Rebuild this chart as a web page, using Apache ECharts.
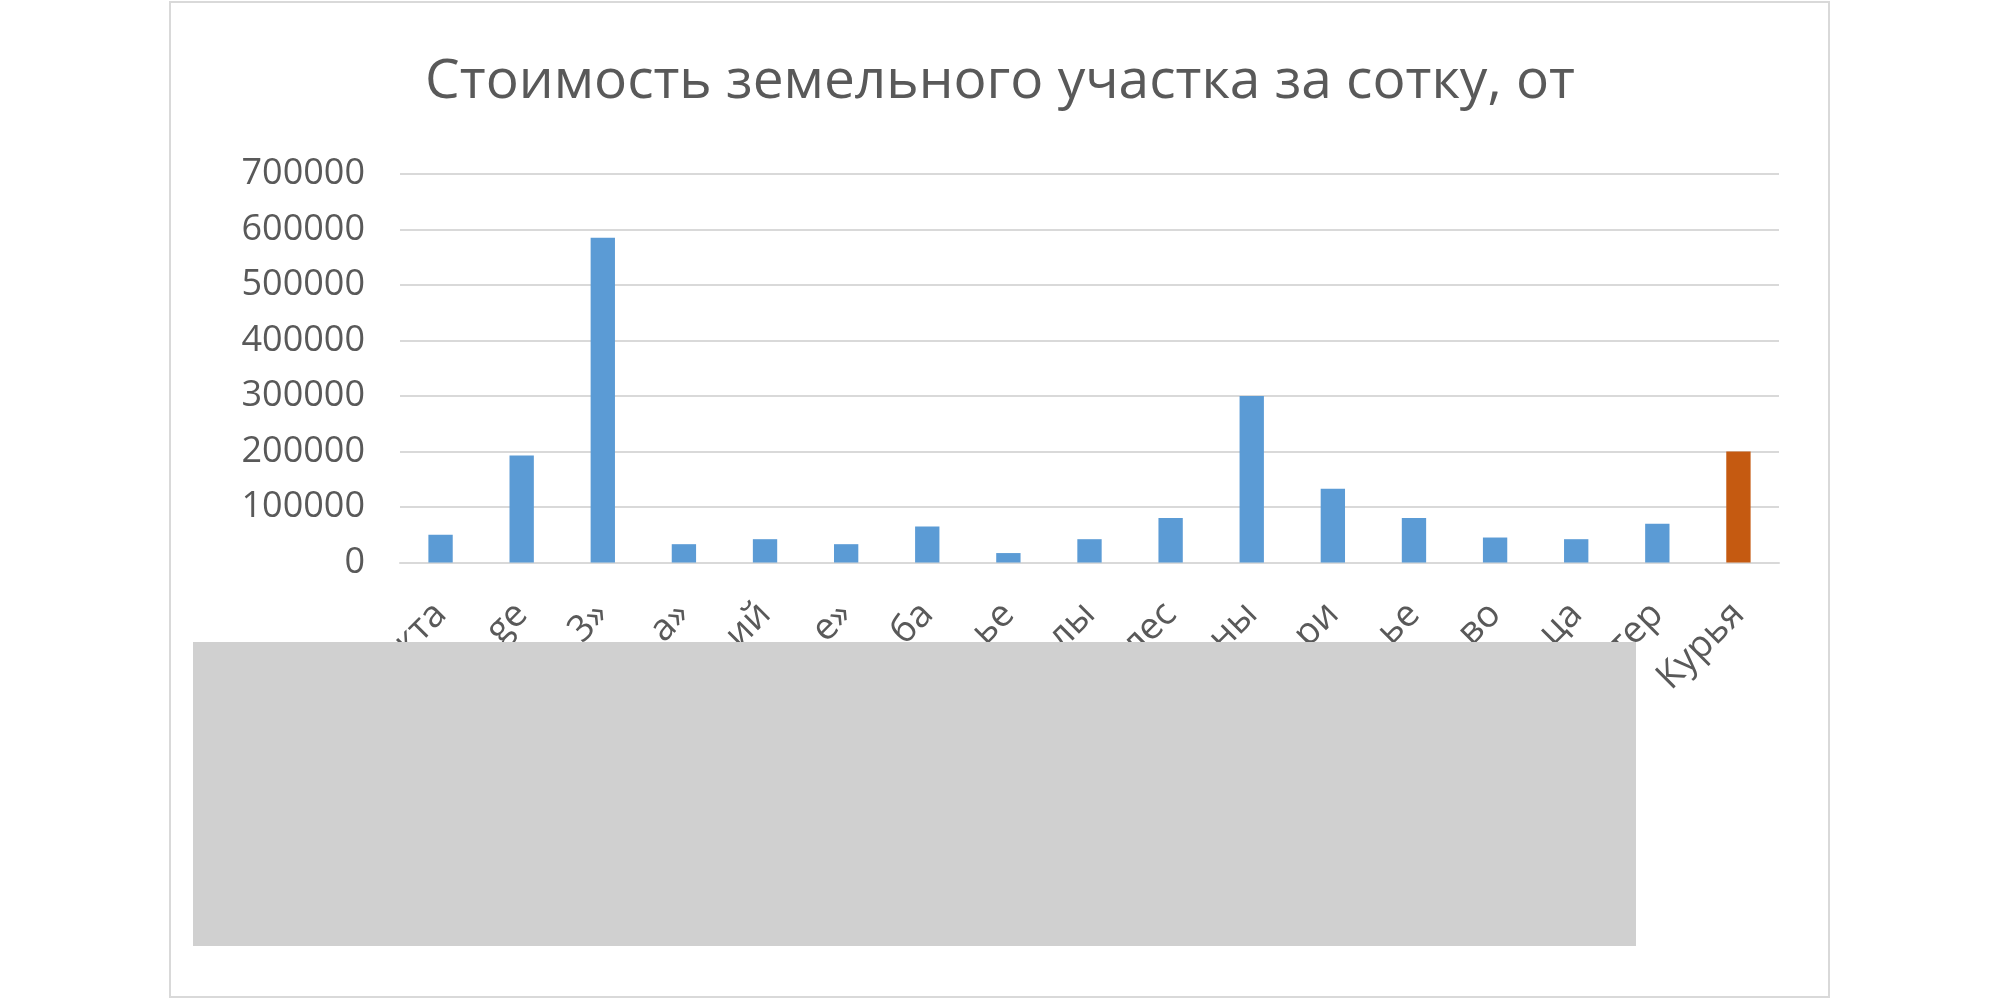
<!DOCTYPE html>
<html>
<head>
<meta charset="utf-8">
<script src="https://cdn.jsdelivr.net/npm/echarts@6/dist/echarts.min.js"></script>
<style>
  html, body { margin: 0; padding: 0; background: #ffffff; }
  #chart { width: 2000px; height: 1000px; }
</style>
</head>
<body>
<div id="chart"></div>
<script>
// Visible (partially hidden) category labels, left to right
const categories = ['кта', 'ge', '3»', 'а»', 'ий', 'е»', 'ба', 'ье', 'лы', 'лес', 'ны', 'ри', 'ье', 'во', 'ца', 'тер', 'Курья'];
// Price per sotka
const values = [50000, 193000, 585000, 33000, 42000, 33000, 65000, 17000, 42000, 80000, 300000, 133000, 80000, 45000, 42000, 70000, 200000];
const highlightCategory = 'Курья';
const titleText = 'Стоимость земельного участка за сотку, от';
const yMin = 0, yMax = 700000, yStep = 100000;

const FONT = '"Open Sans", "Noto Sans", sans-serif';
const TEXT = '#595959';
const BLUE = '#5B9BD5';
const ORANGE = '#C55A11';

const seriesData = values.map((v, i) => ({
  value: v,
  itemStyle: { color: categories[i] === highlightCategory ? ORANGE : BLUE }
}));

const chart = echarts.init(document.getElementById('chart'), null, { renderer: 'canvas' });
chart.setOption({
  animation: false,
  backgroundColor: '#ffffff',
  title: {
    text: titleText,
    left: 'center',
    top: 50,
    textStyle: { fontFamily: FONT, fontSize: 55, fontWeight: 'normal', color: TEXT }
  },
  grid: { left: 400, right: 221, top: 174, bottom: 437.5, containLabel: false },
  xAxis: {
    type: 'category',
    data: categories,
    axisLine: { show: true, lineStyle: { color: '#d9d9d9', width: 2 } },
    axisTick: { show: false },
    axisLabel: {
      interval: 0, rotate: 45, margin: 46,
      fontFamily: FONT, fontSize: 37, color: TEXT
    },
    splitLine: { show: false }
  },
  yAxis: {
    type: 'value',
    min: yMin, max: yMax, interval: yStep,
    axisLine: { show: false },
    axisTick: { show: false },
    axisLabel: {
      margin: 35, fontFamily: FONT, fontSize: 36, color: TEXT,
      formatter: v => String(v)
    },
    splitLine: { show: true, lineStyle: { color: '#d9d9d9', width: 2 } }
  },
  series: [{
    type: 'bar',
    data: seriesData,
    barCategoryGap: '70%'
  }],
  graphic: [
    {
      type: 'rect', z: 100,
      shape: { x: 170, y: 2, width: 1659, height: 995 },
      style: { fill: 'none', stroke: '#d9d9d9', lineWidth: 2 }
    },
    {
      type: 'rect', z: 100,
      shape: { x: 193, y: 642, width: 1443, height: 304 },
      style: { fill: '#d0d0d0' }
    }
  ]
});
</script>
</body>
</html>
